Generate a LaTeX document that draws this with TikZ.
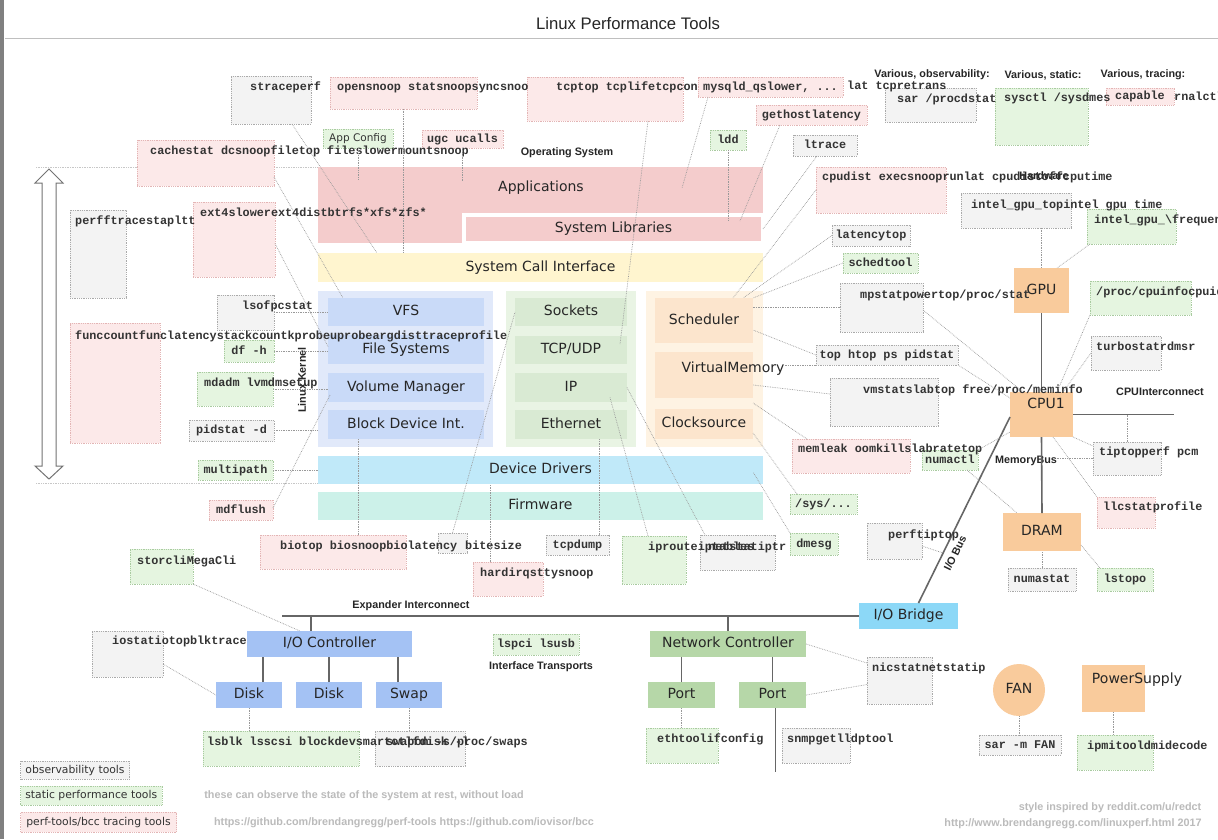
\documentclass[tikz,border=0pt]{standalone}
\usepackage{fontspec}
\setmainfont{DejaVu Sans}
\setsansfont{Liberation Sans}
\setmonofont{Liberation Mono}
\usetikzlibrary{positioning, calc, shapes.geometric}

\definecolor{obsfill}{HTML}{F3F3F3}
\definecolor{obsline}{HTML}{AAAAAA}
\definecolor{statfill}{HTML}{E5F5E0}
\definecolor{statline}{HTML}{A9CBA0}
\definecolor{tracefill}{HTML}{FCE9E9}
\definecolor{traceline}{HTML}{E3B5B5}
\definecolor{appred}{HTML}{F4CCCC}
\definecolor{sysyellow}{HTML}{FFF5CF}
\definecolor{kblueout}{HTML}{E1E9FA}
\definecolor{kbluein}{HTML}{C9DAF8}
\definecolor{kgreenout}{HTML}{E9F4E4}
\definecolor{kgreenin}{HTML}{D9EAD3}
\definecolor{kcpuout}{HTML}{FEF3E3}
\definecolor{kcpuin}{HTML}{FCE5CD}
\definecolor{drvblue}{HTML}{C0E9F9}
\definecolor{fwteal}{HTML}{CCF1E9}
\definecolor{hworange}{HTML}{F9CB9C}
\definecolor{bridgeblue}{HTML}{8CD8F7}
\definecolor{ioblue}{HTML}{A4C2F4}
\definecolor{netgreen}{HTML}{B6D7A8}
\definecolor{notegray}{HTML}{BBBBBB}

\tikzset{
  corner/.style={anchor=north west, inner sep=0pt, outer sep=0pt},
  big/.style={inner sep=0pt, font=\fontsize{14}{16}\selectfont, text=black!85, text height=10pt, text depth=3pt},
  layer/.style={corner, big},
  mono/.style={font=\ttfamily\bfseries\fontsize{11.8}{12}\selectfont, text=black!80, text height=8.5pt, text depth=2pt},
  tool/.style={corner, mono, densely dotted, line width=0.8pt},
  obs/.style={tool, draw=obsline, fill=obsfill},
  stat/.style={tool, draw=statline, fill=statfill},
  trace/.style={tool, draw=traceline, fill=tracefill},
  tt/.style={mono, inner sep=0pt, anchor=west},
  lbl/.style={inner sep=0pt, font=\sffamily\bfseries\fontsize{10.8}{12}\selectfont, text=black!85},
  note/.style={inner sep=0pt, font=\sffamily\bfseries\fontsize{10.8}{12}\selectfont, text=notegray},
  conn/.style={draw=black!40, densely dotted, line width=0.7pt},
  hw/.style={draw=black!60, line width=1.6pt}
}

\begin{document}
\begin{tikzpicture}[x=1pt, y=-1pt]
\useasboundingbox (0,0) rectangle (1218,839);
\fill[white] (0,0) rectangle (1218,839);
\fill[black!50] (0,0) rectangle (4,839);

% title
\node[font=\sffamily\fontsize{16.7}{18}\selectfont, text=black!85] (title) at (628,24) {Linux Performance Tools};
\draw[black!25, line width=1pt] (5,38) -- (1218,38);

% up/down arrow
\draw[draw=black!55, line width=1pt, fill=white] (49,169) -- (63,183) -- (56,183) -- (56,466) -- (63,466) -- (49,479) -- (35,466) -- (42,466) -- (42,183) -- (35,183) -- cycle;

% operating system
\node[lbl] (os-l) at (567,153) {Operating System};
\node[layer, fill=appred, minimum width=445, minimum height=76] (apps) at (318,167) {};
\node[big] (apps-t) at (541,188) {Applications};
\node[layer, fill=appred, draw=white, line width=4pt, minimum width=299, minimum height=28] (syslib) at (464,215) {System Libraries};
\node[layer, fill=sysyellow, minimum width=445, minimum height=29] (syscall) at (318,253) {System Call Interface};

% kernel
\node[layer, fill=kblueout, minimum width=175, minimum height=156] (kvfscol) at (318,291) {};
\node[layer, fill=kbluein, minimum width=156, minimum height=28] (vfs) at (328,298) {VFS};
\node[layer, fill=kbluein, minimum width=156, minimum height=29] (fs) at (328,335) {File Systems};
\node[layer, fill=kbluein, minimum width=156, minimum height=29] (volmgr) at (328,373) {Volume Manager};
\node[layer, fill=kbluein, minimum width=156, minimum height=29] (blkdev) at (328,410) {Block Device Int.};
\node[layer, fill=kgreenout, minimum width=130, minimum height=156] (knetcol) at (506,291) {};
\node[layer, fill=kgreenin, minimum width=112, minimum height=28] (sockets) at (515,298) {Sockets};
\node[layer, fill=kgreenin, minimum width=112, minimum height=28] (tcpudp) at (515,336) {TCP/UDP};
\node[layer, fill=kgreenin, minimum width=112, minimum height=29] (ip) at (515,373) {IP};
\node[layer, fill=kgreenin, minimum width=112, minimum height=29] (ether) at (515,410) {Ethernet};
\node[layer, fill=kcpuout, minimum width=117, minimum height=156] (kcpucol) at (646,291) {};
\node[layer, fill=kcpuin, minimum width=98, minimum height=45] (sched) at (655,298) {Scheduler};
\node[layer, fill=kcpuin, minimum width=98, minimum height=46] (vm) at (655,352) {};
\node[big] (vm-t) at (733,369) {VirtualMemory};
\node[layer, fill=kcpuin, minimum width=98, minimum height=30] (clock) at (655,409) {Clocksource};
\node[layer, fill=drvblue, minimum width=445, minimum height=28] (devdrv) at (318,456) {Device Drivers};
\node[layer, fill=fwteal, minimum width=445, minimum height=28] (firmware) at (318,492) {Firmware};
\node[lbl, rotate=90] (kernel-l) at (302,380) {Linux Kernel};

% guide lines
\coordinate (os-top) at (36,167);
\coordinate (os-bot) at (36,483);
\draw[conn, draw=black!22] (os-top) -- (apps.north west);
\draw[conn, draw=black!22] (os-bot) -- (os-bot -| devdrv.west);

% hardware
\node[lbl] (hw-l) at (1044,176) {Hardware};
\node[layer, fill=hworange, minimum width=55, minimum height=45] (gpu) at (1014,268) {GPU};
\node[layer, fill=hworange, minimum width=63, minimum height=45] (cpu) at (1010,392) {};
\node[big] (cpu-t) at (1046,405) {CPU1};
\node[layer, fill=hworange, minimum width=78, minimum height=38] (dram) at (1003,513) {DRAM};
\node[layer, fill=bridgeblue, minimum width=99, minimum height=26] (iob) at (859,603) {I/O Bridge};
\node[layer, fill=ioblue, minimum width=165, minimum height=26] (ioctl) at (247,631) {I/O Controller};
\node[layer, fill=ioblue, minimum width=66, minimum height=26] (disk1) at (216,682) {Disk};
\node[layer, fill=ioblue, minimum width=66, minimum height=26] (disk2) at (296,682) {Disk};
\node[layer, fill=ioblue, minimum width=66, minimum height=26] (swap) at (376,682) {Swap};
\node[layer, fill=netgreen, minimum width=156, minimum height=26] (netctl) at (650,631) {Network Controller};
\node[layer, fill=netgreen, minimum width=67, minimum height=26] (port1) at (648,682) {Port};
\node[layer, fill=netgreen, minimum width=67, minimum height=26] (port2) at (739,682) {Port};
\node[big, circle, fill=hworange, minimum size=52] (fan) at (1019,690) {FAN};
\node[layer, fill=hworange, minimum width=63, minimum height=47] (psu) at (1082,665) {};
\node[big] (psu-t) at (1137,680) {PowerSupply};

\node[lbl] (cpuic-l) at (1160,392) {CPUInterconnect};
\node[lbl] (membus-l) at (1026,461) {MemoryBus};
\node[lbl] (exp-l) at (411,606) {Expander Interconnect};
\node[lbl] (iftrans-l) at (541,667) {Interface Transports};
\node[lbl, rotate=64] (iobus-l) at (955,553) {I/O Bus};

\coordinate (cpuic-e) at (1174,414.5);
\coordinate (exp-w) at (282,616);
\draw[hw] (gpu.south) -- (cpu.north);
\draw[hw] (cpu.south) -- (dram.north);
\draw[hw] (cpu.east) -- (cpuic-e);
\draw[hw] ($(cpu.south west)+(0,-20)$) -- ($(iob.north)+(10,0)$);
\draw[hw] (exp-w) -- (iob.west);
\draw[hw] ($(ioctl.north west)+(64,0)$) -- ($(ioctl.north west)+(64,-15)$);
\draw[hw] (netctl.north) -- ++(0,-15);
\draw[hw] ($(disk1.north)+(14,0)$) -- ++(0,-25);
\draw[hw] (disk2.north) -- ++(0,-25);
\draw[hw] ($(swap.north)+(-11,0)$) -- ++(0,-25);
\draw[hw] (port1.north) -- ++(0,-25);
\draw[hw] (port2.north) -- ++(0,-25);
\draw[hw] ($(port2.south)+(3,0)$) -- ++(0,64);

% tool boxes
\node[lbl] (various-obs) at (932,75) {Various, observability:};
\node[lbl] (various-stat) at (1043,75) {Various, static:};
\node[lbl] (various-trace) at (1143,75) {Various, tracing:};

\node[obs, minimum width=80, minimum height=48] (strace) at (231,76) {};
\node[trace, minimum width=147, minimum height=32] (opensnoop) at (330,77) {};
\node[trace, minimum width=156, minimum height=44] (tcptop) at (527,77) {};
\node[trace, minimum width=145, minimum height=20] (mysqld) at (698,77) {mysqld\_qslower, ...};
\node[obs, minimum width=91, minimum height=34] (sar) at (885,88) {};
\node[stat, minimum width=93, minimum height=57] (sysctl) at (995,88) {};
\node[trace, minimum width=68, minimum height=17] (capable) at (1106,88) {capable};
\node[trace, minimum width=137, minimum height=46] (cachestat) at (137,140) {};
\node[stat, font=\fontsize{10.5}{12}\selectfont, minimum width=70, minimum height=19] (appcfg) at (323,129) {App Config};
\node[trace, minimum width=81, minimum height=18] (ugc) at (422,130) {ugc ucalls};
\node[stat, minimum width=36, minimum height=20] (ldd) at (710,130) {ldd};
\node[trace, minimum width=111, minimum height=20] (gethost) at (756,105) {gethostlatency};
\node[obs, minimum width=64, minimum height=21] (ltrace) at (793,135) {ltrace};
\node[trace, minimum width=130, minimum height=46] (cpudist) at (816,167) {};
\node[obs, minimum width=56, minimum height=88] (perfftrace) at (70,210) {};
\node[trace, minimum width=82, minimum height=75] (ext4) at (193,202) {};
\node[obs, minimum width=110, minimum height=35] (igputop) at (961,193) {};
\node[stat, minimum width=89, minimum height=35] (igpufreq) at (1087,209) {};
\node[obs, minimum width=78, minimum height=21] (latencytop) at (832,225) {latencytop};
\node[stat, minimum width=75, minimum height=20] (schedtool) at (843,253) {schedtool};
\node[obs, minimum width=83, minimum height=49] (mpstat) at (840,283) {};
\node[stat, minimum width=101, minimum height=34] (cpuinfo) at (1090,281) {};
\node[obs, minimum width=57, minimum height=35] (lsof) at (217,295) {};
\node[trace, minimum width=90, minimum height=120] (funccount) at (70,323) {};
\node[stat, minimum width=50, minimum height=22] (dfh) at (224,340) {df -h};
\node[obs, minimum width=70, minimum height=34] (turbostat) at (1091,336) {};
\node[obs, minimum width=142, minimum height=20] (tophtop) at (816,345) {top htop ps pidstat};
\node[stat, minimum width=76, minimum height=34] (mdadm) at (197,372) {};
\node[obs, minimum width=108, minimum height=48] (vmstat) at (830,378) {};
\node[obs, minimum width=85, minimum height=21] (pidstatd) at (189,420) {pidstat -d};
\node[trace, minimum width=118, minimum height=34] (memleak) at (792,439) {};
\node[stat, minimum width=56, minimum height=20] (numactl) at (922,450) {numactl};
\node[stat, minimum width=75, minimum height=20] (multipath) at (198,460) {multipath};
\node[stat, minimum width=67, minimum height=20] (sysfs) at (790,494) {/sys/...};
\node[trace, minimum width=64, minimum height=20] (mdflush) at (209,500) {mdflush};
\node[obs, minimum width=55, minimum height=36] (perftiptop) at (867,523) {};
\node[trace, minimum width=146, minimum height=34] (biotop) at (260,535) {};
\node[obs, minimum width=29, minimum height=20] (biosmall) at (438,533) {};
\node[trace, minimum width=70, minimum height=34] (hardirqs) at (473,562) {};
\node[obs, minimum width=63, minimum height=20] (tcpdump) at (546,535) {tcpdump};
\node[stat, minimum width=64, minimum height=48] (iproute) at (622,536) {};
\node[obs, minimum width=75, minimum height=35] (netstat) at (700,535) {};
\node[stat, minimum width=48, minimum height=22] (dmesg) at (790,533) {dmesg};
\node[stat, minimum width=63, minimum height=35] (storcli) at (130,549) {};
\node[obs, minimum width=68, minimum height=23] (numastat) at (1008,568) {numastat};
\node[stat, minimum width=56, minimum height=23] (lstopo) at (1097,568) {lstopo};
\node[trace, minimum width=58, minimum height=31] (llcstat) at (1097,497) {};
\node[obs, minimum width=68, minimum height=33] (tiptop) at (1093,442) {};
\node[obs, minimum width=71, minimum height=46] (iostat) at (92,631) {};
\node[stat, minimum width=86, minimum height=21] (lspci) at (493,634) {lspci lsusb};
\node[obs, minimum width=65, minimum height=47] (nicstat) at (867,657) {};
\node[stat, minimum width=72, minimum height=35] (ethtool) at (646,728) {};
\node[obs, minimum width=68, minimum height=35] (snmpget) at (782,728) {};
\node[stat, minimum width=156, minimum height=35] (lsblk) at (203,731) {};
\node[obs, minimum width=90, minimum height=35] (swapon) at (375,731) {};
\node[obs, minimum width=82, minimum height=20] (sarfan) at (979,735) {sar -m FAN};
\node[stat, minimum width=76, minimum height=35] (ipmitool) at (1077,735) {};

% tool texts
\node[tt] (strace-t) at (250,87) {straceperf};
\node[tt] (opensnoop-t) at (337,87) {opensnoop statsnoopsyncsnoo};
\node[tt] (tcptop-t) at (556,87) {tcptop tcplifetcpcon};
\node[tt] (tail-t) at (847,86) {lat tcpretrans};
\node[tt] (sar-t) at (897,99) {sar /procdstat};
\node[tt] (sysctl-t) at (1004,98) {sysctl /sysdmes};
\node[tt] (rnalctl-t) at (1174,97) {rnalctl};
\node[tt] (cachestat-t) at (150,151) {cachestat dcsnoopfiletop fileslowermountsnoop};
\node[tt] (cpudist-t) at (822,177) {cpudist execsnooprunlat cpudistoffcputime};
\node[tt] (perfftrace-t) at (75,221) {perfftracestapltt};
\node[tt] (ext4-t) at (200,213) {ext4slowerext4distbtrfs*xfs*zfs*};
\node[tt] (igputop-t) at (971,205) {intel\_gpu\_topintel gpu time};
\node[tt] (igpufreq-t) at (1094,220) {intel\_gpu\_\textbackslash frequen};
\node[tt] (mpstat-t) at (860,295) {mpstatpowertop/proc/stat};
\node[tt] (cpuinfo-t) at (1096,292) {/proc/cpuinfocpuid};
\node[tt] (lsof-t) at (242,306) {lsofpcstat};
\node[tt] (funccount-t) at (75,336) {funccountfunclatencystackcountkprobeuprobeargdisttraceprofile};
\node[tt] (turbostat-t) at (1096,347) {turbostatrdmsr};
\node[tt] (mdadm-t) at (204,383) {mdadm lvmdmsetup};
\node[tt] (vmstat-t) at (863,390) {vmstatslabtop free/proc/meminfo};
\node[tt] (memleak-t) at (798,449) {memleak oomkillslabratetop};
\node[tt] (perftiptop-t) at (888,535) {perftiptop};
\node[tt] (biotop-t) at (280,546) {biotop biosnoopbiolatency};
\node[tt] (bitesize-t) at (465,546) {bitesize};
\node[tt] (hardirqs-t) at (480,573) {hardirqsttysnoop};
\node[tt] (iproute-t) at (648,547) {iprouteiptables};
\node[tt] (netstat-t) at (708,547) {netstatiptr};
\node[tt] (storcli-t) at (137,561) {storcliMegaCli};
\node[tt] (llcstat-t) at (1103,507) {llcstatprofile};
\node[tt] (tiptop-t) at (1099,452) {tiptopperf pcm};
\node[tt] (iostat-t) at (112,641) {iostatiotopblktrace};
\node[tt] (nicstat-t) at (872,668) {nicstatnetstatip};
\node[tt] (ethtool-t) at (657,739) {ethtoolifconfig};
\node[tt] (snmpget-t) at (787,739) {snmpgetlldptool};
\node[tt] (lsblk-t) at (207,742) {lsblk lsscsi blockdevsmartctlfdisk -l};
\node[tt] (swapon-t) at (386,742) {swapon -s/proc/swaps};
\node[tt] (ipmitool-t) at (1087,746) {ipmitooldmidecode};

% dotted connectors
\coordinate (bio-up) at ($(blkdev.south west)+(30,0)$);
\coordinate (irq-up) at ($(hardirqs.north)+(-18,0)$);
\coordinate (dump-up) at ($(tcpdump.north)+(22,0)$);
\coordinate (iobus-pt) at (943,553);
\draw[conn] ($(strace.south)+(21,0)$) -- ($(syscall.north west)+(59,0)$);
\draw[conn] ($(cachestat.east)+(0,14)$) -- ($(vfs.north west)+(15,0)$);
\draw[conn] ($(ext4.east)+(0,4)$) -- ($(fs.west)+(0,-3)$);
\draw[conn] (opensnoop.south) -- (opensnoop.south |- syscall.north);
\draw[conn] (appcfg.south) -- ($(appcfg.south |- apps.north)+(0,12)$);
\draw[conn] (ugc.south) -- ($(ugc.south |- apps.north)+(0,14)$);
\draw[conn] ($(tcptop.south)+(43,0)$) -- ($(tcpudp.north east)+(-7,8)$);
\draw[conn] ($(mysqld.south west)+(10,0)$) -- ($(apps.north east)+(-81,21)$);
\draw[conn] (ldd.south) -- ($(ldd.south |- syslib.north)+(0,6)$);
\draw[conn] ($(gethost.south west)+(24,0)$) -- ($(syslib.north east)+(-23,6)$);
\draw[conn] ($(ltrace.south west)+(24,0)$) -- (syslib.east);
\draw[conn] (cpudist.west) -- ($(sched.north east)+(-20,0)$);
\draw[conn] (latencytop.west) -- ($(sched.north east)+(-10,0)$);
\draw[conn] (schedtool.west) -- (sched.north east);
\draw[conn] (mpstat.west) -- ($(sched.east)+(0,-13)$);
\draw[conn] (tophtop.west) -- ($(sched.south east)+(0,-13)$);
\draw[conn] (tophtop.south west) -- ($(vm.east)+(32,-10)$);
\draw[conn] ($(vmstat.north west)+(0,16)$) -- ($(vm.east)+(0,10)$);
\draw[conn] ($(memleak.north west)+(15,0)$) -- ($(vm.south east)+(0,5)$);
\draw[conn] ($(sysfs.north west)+(7,0)$) -- ($(clock.east)+(0,9)$);
\draw[conn] (dmesg.north west) -- ($(devdrv.east)+(-10,2)$);
\draw[conn] ($(mpstat.north east)+(0,27)$) -- ($(cpu.north west)+(13,0)$);
\draw[conn] (tophtop.south east) -- ($(cpu.north west)+(0,6)$);
\draw[conn] (cpuinfo.south west) -- ($(cpu.north east)+(-16,0)$);
\draw[conn] (turbostat.west) -- ($(cpu.north east)+(-10,0)$);
\draw[conn] (cpu.south east) -- ($(tiptop.north west)+(0,4)$);
\draw[conn] (tiptop.west) -- (tiptop.west -| membus-l.east);
\draw[conn] (tiptop.north) -- (tiptop.north |- cpu.east);
\draw[conn] ($(cpu.south east)+(-20,0)$) -- (llcstat.north west);
\draw[conn] ($(numactl.south)+(17,0)$) -- ($(dram.north west)+(14,0)$);
\draw[conn] (numactl.north east) -- ($(cpu.south west)+(0,-5)$);
\draw[conn] ($(dram.south east)+(0,-6)$) -- ($(lstopo.north west)+(3,0)$);
\draw[conn] (numastat.north) -- (numastat.north |- dram.south);
\draw[conn] (gpu.north |- igputop.south) -- (gpu.north);
\draw[conn] ($(igpufreq.south west)+(3,0)$) -- ($(gpu.north east)+(-12,0)$);
\draw[conn] (lsof.east) -- (lsof.east -| vfs.west);
\draw[conn] (dfh.east) -- (dfh.east -| fs.west);
\draw[conn] (mdadm.east) -- (mdadm.east -| volmgr.west);
\draw[conn] (pidstatd.east) -- (pidstatd.east -| kvfscol.west);
\draw[conn] (multipath.east) -- (multipath.east -| devdrv.west);
\draw[conn] ($(mdflush.east)+(0,-2)$) -- ($(volmgr.south west)+(2,-7)$);
\draw[conn] (bio-up) -- (bio-up |- biotop.north);
\draw[conn] (biosmall.north) -- (sockets.west);
\draw[conn] (irq-up) -- (irq-up |- devdrv.south);
\draw[conn] (dump-up) -- (dump-up |- ether.south);
\draw[conn] ($(ip.east)+(-17,10)$) -- ($(iproute.north west)+(26,0)$);
\draw[conn] (ip.east) -- ($(netstat.north west)+(5,0)$);
\draw[conn] (storcli.south east) -- ($(ioctl.north west)+(53,0)$);
\draw[conn] ($(iostat.east)+(0,10)$) -- (disk1.west);
\draw[conn] (disk1.south) -- (disk1.south |- lsblk.north);
\draw[conn] (swap.south) -- (swap.south |- swapon.north);
\draw[conn] (port1.south) -- (port1.south |- ethtool.north);
\draw[conn] (netctl.east) -- ($(nicstat.north west)+(0,6)$);
\draw[conn] (port2.east) -- ($(nicstat.west)+(0,4)$);
\draw[conn] (fan.south) -- (fan.south |- sarfan.north);
\draw[conn] (psu.south) -- (psu.south |- ipmitool.north);
\draw[conn] ($(perftiptop.east)+(0,5)$) -- (iobus-pt);

% legend and notes
\node[obs, font=\fontsize{10.8}{12}\selectfont, minimum width=109, minimum height=18] (leg-obs) at (20.5,761) {observability tools};
\node[stat, font=\fontsize{10.8}{12}\selectfont, minimum width=141.5, minimum height=19] (leg-stat) at (20.5,786) {static performance tools};
\node[trace, font=\fontsize{10.8}{12}\selectfont, minimum width=156, minimum height=20] (leg-trace) at (20.5,812) {perf-tools/bcc tracing tools};
\node[note] (note-rest) at (364,796) {these can observe the state of the system at rest, without load};
\node[note] (note-urls) at (404,823) {https://github.com/brendangregg/perf-tools https://github.com/iovisor/bcc};
\node[note] (note-style) at (1110,808) {style inspired by reddit.com/u/redct};
\node[note] (note-url) at (1073,824) {http://www.brendangregg.com/linuxperf.html 2017};

\end{tikzpicture}
\end{document}
